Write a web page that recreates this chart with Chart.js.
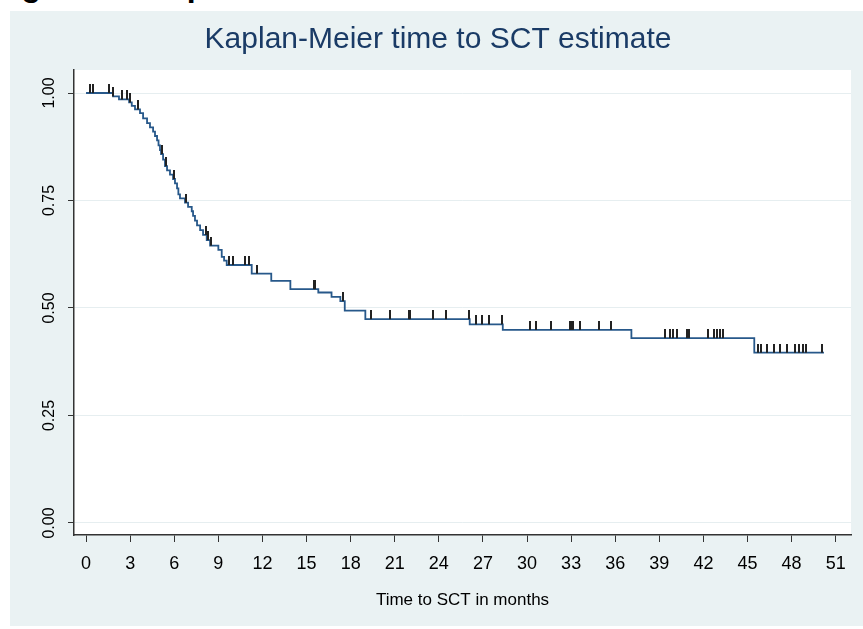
<!DOCTYPE html>
<html>
<head>
<meta charset="utf-8">
<script src="https://cdn.jsdelivr.net/npm/chart.js@4.4.1/dist/chart.umd.min.js"></script>
<style>
  body { margin: 0; background: #fff; width: 863px; height: 629px; overflow: hidden; position: relative; }
  #caption { position: absolute; left: -7px; top: -31px; font: bold 32px "Liberation Sans", Arial, sans-serif; line-height: 32px; color: #000; white-space: nowrap; }
  #km { position: absolute; left: 10px; top: 11px; background: #eaf2f3; }
</style>
</head>
<body>
<div id="caption">Figure 2 - Kaplan-Meier time to SCT</div>
<canvas id="km" width="853" height="615"></canvas>
<script>
// step points of the KM curve (months, survivor function after the step)
var kmTimes = [0, 1.84, 2.24, 2.93, 3.11, 3.33, 3.67, 3.88, 4.15, 4.35, 4.56, 4.69, 4.83, 4.93, 5.03, 5.10, 5.24, 5.37, 5.51, 5.71, 5.92, 6.05, 6.19, 6.28, 6.39, 6.73, 6.94, 7.19, 7.28, 7.41, 7.55, 7.76, 7.96, 8.21, 8.44, 9.0, 9.23, 9.39, 9.57, 11.27, 12.6, 13.9, 15.8, 16.7, 17.3, 17.6, 19.0, 26.1, 28.35, 37.1, 45.46, 50.2];
var kmSurv = [1, 0.992, 0.985, 0.978, 0.970, 0.962, 0.953, 0.941, 0.930, 0.920, 0.910, 0.900, 0.890, 0.878, 0.867, 0.858, 0.845, 0.830, 0.820, 0.810, 0.800, 0.790, 0.778, 0.764, 0.755, 0.745, 0.735, 0.725, 0.714, 0.703, 0.692, 0.681, 0.670, 0.658, 0.645, 0.635, 0.619, 0.610, 0.600, 0.580, 0.563, 0.544, 0.536, 0.526, 0.516, 0.494, 0.474, 0.462, 0.449, 0.430, 0.396, 0.396];

// censored observations
var censorTimes = [0.27, 0.5, 1.56, 1.84, 2.43, 2.77, 3.0, 3.56, 5.2, 5.45, 6.0, 6.8, 8.15, 8.3, 8.5, 9.73, 10.0, 10.8, 11.1, 11.65, 15.5, 15.58, 17.5, 19.4, 20.7, 22.0, 22.07, 23.6, 24.5, 26.05, 26.5, 26.96, 27.4, 28.3, 30.2, 30.6, 31.6, 32.9, 33.0, 33.12, 33.6, 34.9, 35.7, 39.4, 39.7, 39.95, 40.2, 40.9, 41.0, 42.3, 42.7, 42.9, 43.1, 43.3, 45.7, 45.9, 46.3, 46.8, 47.2, 47.7, 48.2, 48.5, 48.75, 49.0, 50.1];
var censorSurv = [1, 1, 1, 0.992, 0.985, 0.985, 0.978, 0.962, 0.858, 0.830, 0.800, 0.745, 0.670, 0.658, 0.645, 0.6, 0.6, 0.6, 0.6, 0.58, 0.544, 0.544, 0.516, 0.474, 0.474, 0.474, 0.474, 0.474, 0.474, 0.474, 0.462, 0.462, 0.462, 0.462, 0.449, 0.449, 0.449, 0.449, 0.449, 0.449, 0.449, 0.449, 0.449, 0.43, 0.43, 0.43, 0.43, 0.43, 0.43, 0.43, 0.43, 0.43, 0.43, 0.43, 0.396, 0.396, 0.396, 0.396, 0.396, 0.396, 0.396, 0.396, 0.396, 0.396, 0.396];

var xTicks = [0, 3, 6, 9, 12, 15, 18, 21, 24, 27, 30, 33, 36, 39, 42, 45, 48, 51];
var yTicks = [0, 0.25, 0.5, 0.75, 1];

var FONT = '"Liberation Sans", Arial, sans-serif';

// little upward tick used for censored points
var tickMark = document.createElement('canvas');
tickMark.width = 2;
tickMark.height = 18;
var tctx = tickMark.getContext('2d');
tctx.fillStyle = '#222';
tctx.fillRect(0, 0, 2, 9);

var plotBg = {
  id: 'plotBg',
  beforeDraw: function (chart) {
    var a = chart.chartArea;
    chart.ctx.save();
    chart.ctx.fillStyle = '#fff';
    chart.ctx.fillRect(a.left, a.top, a.right - a.left, a.bottom - a.top);
    chart.ctx.restore();
  }
};

new Chart(document.getElementById('km').getContext('2d'), {
  type: 'line',
  data: {
    datasets: [{
      type: 'scatter',
      data: censorTimes.map(function (t, i) { return { x: t, y: censorSurv[i] }; }),
      pointStyle: tickMark,
      pointRadius: 4,
      showLine: false
    }, {
      data: kmTimes.map(function (t, i) { return { x: t, y: kmSurv[i] }; }),
      stepped: 'before',
      borderColor: '#27588a',
      borderWidth: 1.8,
      pointRadius: 0,
      fill: false
    }]
  },
  plugins: [plotBg],
  options: {
    responsive: false,
    animation: false,
    devicePixelRatio: 1,
    layout: { padding: { left: 15, right: 12, top: 0, bottom: 0 } },
    plugins: {
      legend: { display: false },
      tooltip: { enabled: false },
      title: {
        display: true,
        text: 'Kaplan-Meier time to SCT estimate',
        color: '#1a3b66',
        font: { family: FONT, size: 30, weight: 'normal' },
        padding: { top: 11, bottom: 12 }
      }
    },
    scales: {
      x: {
        type: 'linear',
        min: -0.82,
        max: 52.04,
        afterBuildTicks: function (s) { s.ticks = xTicks.map(function (v) { return { value: v }; }); },
        afterFit: function (s) { s.height = 91; },
        ticks: { autoSkip: false, maxRotation: 0, color: '#000', padding: 11, font: { family: FONT, size: 18 } },
        grid: { drawOnChartArea: false, tickLength: 7, tickColor: '#333', tickWidth: 1 },
        border: { display: true, color: '#333', width: 1.5 },
        title: { display: true, text: 'Time to SCT in months', color: '#000', font: { family: FONT, size: 17 }, padding: { top: 0, bottom: 15 } }
      },
      y: {
        type: 'linear',
        min: -0.028,
        max: 1.0535,
        afterBuildTicks: function (s) { s.ticks = yTicks.map(function (v) { return { value: v }; }); },
        afterFit: function (s) { s.width = 49; },
        ticks: {
          color: '#000',
          minRotation: 90,
          maxRotation: 90,
          crossAlign: 'center',
          padding: 3,
          font: { family: FONT, size: 16 },
          callback: function (v) { return v.toFixed(2); }
        },
        grid: { color: '#e6eef0', lineWidth: 1, tickLength: 6, tickColor: '#333', tickWidth: 1 },
        border: { display: true, color: '#333', width: 1.5 }
      }
    }
  }
});
</script>
</body>
</html>
